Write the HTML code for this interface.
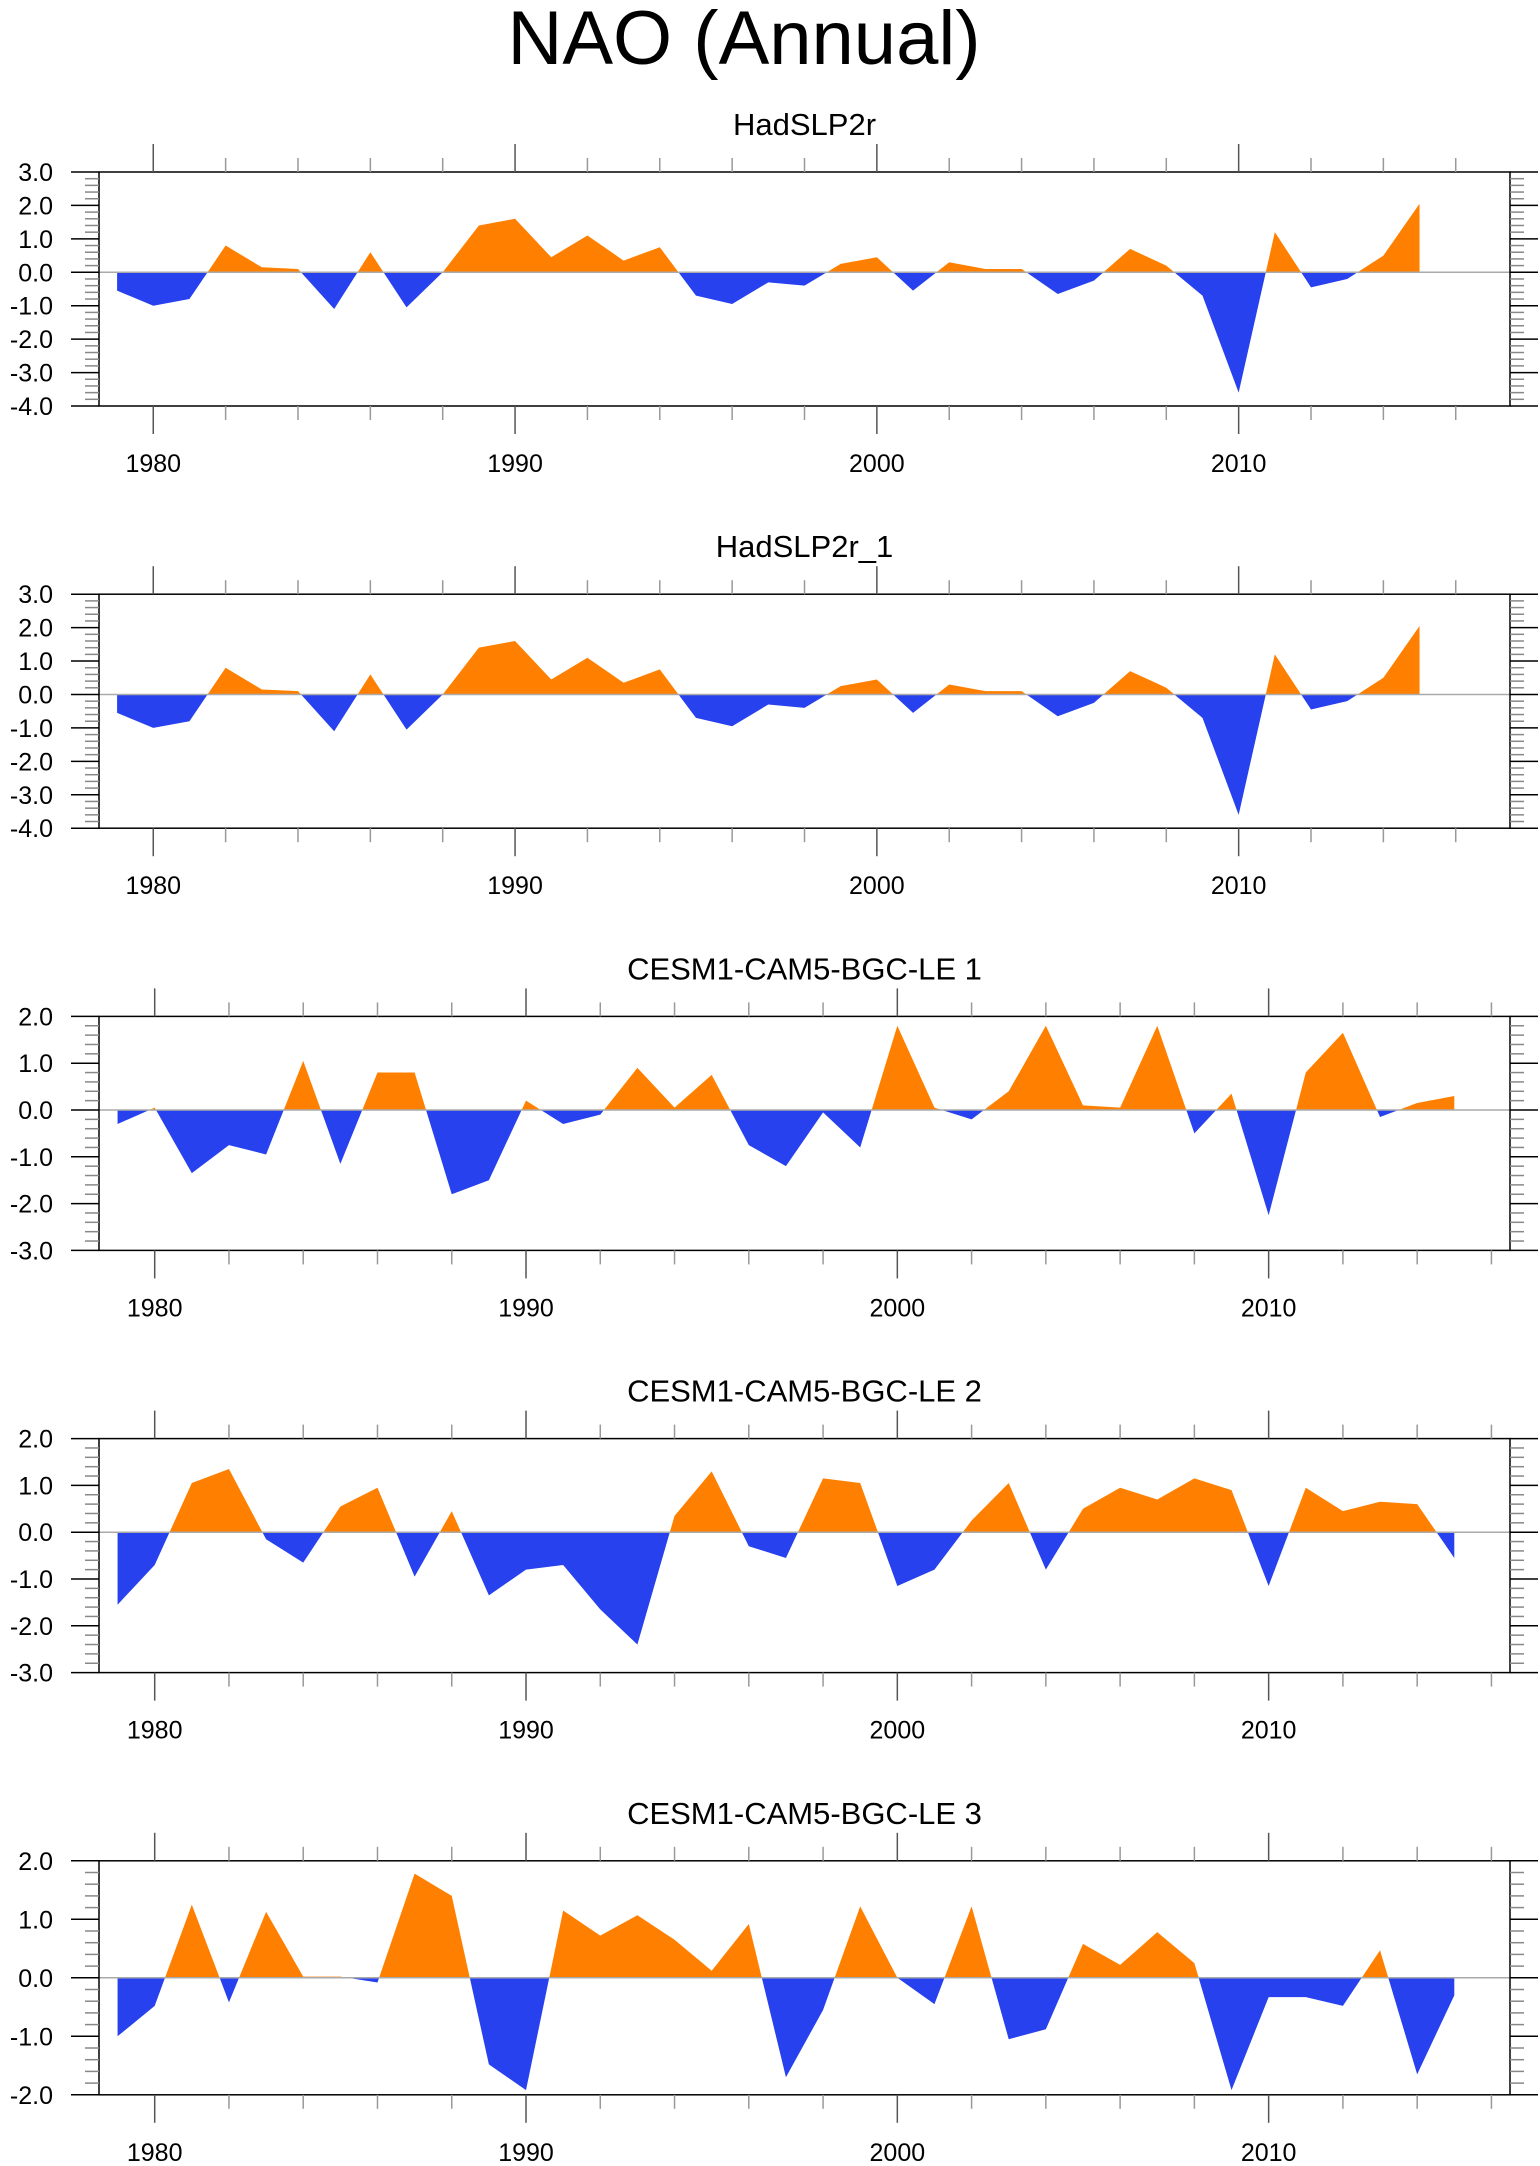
<!DOCTYPE html>
<html><head><meta charset="utf-8">
<style>
html,body{margin:0;padding:0;background:#fff;}
svg{display:block;font-family:"Liberation Sans",sans-serif;}
</style></head>
<body>
<svg id="chart" width="1540" height="2166" viewBox="0 0 1540 2166" xmlns="http://www.w3.org/2000/svg">
<text x="744" y="64" font-size="76" text-anchor="middle">NAO (Annual)</text>
</svg>
<script>
const years = [1979,1980,1981,1982,1983,1984,1985,1986,1987,1988,1989,1990,1991,1992,1993,1994,1995,1996,1997,1998,1999,2000,2001,2002,2003,2004,2005,2006,2007,2008,2009,2010,2011,2012,2013,2014,2015];
const hadslp = [-0.55,-1.0,-0.8,0.8,0.15,0.1,-1.1,0.6,-1.05,0.0,1.4,1.6,0.45,1.1,0.35,0.75,-0.7,-0.95,-0.3,-0.4,0.25,0.45,-0.55,0.3,0.1,0.1,-0.65,-0.25,0.7,0.2,-0.7,-3.6,1.2,-0.45,-0.2,0.5,2.05];
const hadslp1 = [-0.55,-1.0,-0.8,0.8,0.15,0.1,-1.1,0.6,-1.05,0.0,1.4,1.6,0.45,1.1,0.35,0.75,-0.7,-0.95,-0.3,-0.4,0.25,0.45,-0.55,0.3,0.1,0.1,-0.65,-0.25,0.7,0.2,-0.7,-3.6,1.2,-0.45,-0.2,0.5,2.05];
const le1 = [-0.3,0.05,-1.35,-0.75,-0.95,1.05,-1.15,0.8,0.8,-1.8,-1.5,0.2,-0.3,-0.1,0.9,0.05,0.75,-0.75,-1.2,-0.05,-0.8,1.8,0.05,-0.2,0.4,1.8,0.1,0.05,1.8,-0.5,0.35,-2.25,0.8,1.65,-0.15,0.15,0.3];
const le2 = [-1.55,-0.7,1.05,1.35,-0.15,-0.65,0.55,0.95,-0.95,0.45,-1.35,-0.8,-0.7,-1.65,-2.4,0.35,1.3,-0.3,-0.55,1.15,1.05,-1.15,-0.8,0.25,1.05,-0.8,0.5,0.95,0.7,1.15,0.9,-1.15,0.95,0.45,0.65,0.6,-0.55];
const le3 = [-1.0,-0.48,1.25,-0.42,1.13,0.02,0.02,-0.08,1.78,1.4,-1.48,-1.92,1.15,0.72,1.07,0.65,0.12,0.92,-1.7,-0.55,1.22,0.0,-0.45,1.22,-1.05,-0.88,0.58,0.22,0.78,0.25,-1.92,-0.33,-0.33,-0.48,0.47,-1.65,-0.3];
const titles = ["HadSLP2r","HadSLP2r_1","CESM1-CAM5-BGC-LE 1","CESM1-CAM5-BGC-LE 2","CESM1-CAM5-BGC-LE 3"];
const yMins = [-4,-4,-3,-3,-2];
const yMaxs = [3,3,2,2,2];
const xMaxs = [2017.5,2017.5,2016.5,2016.5,2016.5];
const xTickLabels = [1980,1990,2000,2010];

const NS="http://www.w3.org/2000/svg";
const svg=document.getElementById('chart');
function mk(tag,attrs,parent){const e=document.createElementNS(NS,tag);for(const k in attrs)e.setAttribute(k,attrs[k]);(parent||svg).appendChild(e);return e;}
const series=[hadslp,hadslp1,le1,le2,le3];
const L=99,R=1510;
for(let p=0;p<5;p++){
  const top=172+p*422.2, bot=top+234;
  const g=mk('g',{});
  
  
  const x0=1978.5,x1=xMaxs[p],y0=yMins[p],y1=yMaxs[p];
  const X=v=>L+(v-x0)/(x1-x0)*(R-L);
  const Y=v=>bot-(v-y0)/(y1-y0)*(bot-top);
  const t=mk('text',{x:(L+R)/2,y:top-37,'font-size':31,'text-anchor':'middle'},g);
  t.textContent=titles[p];
  
  
  const cu='cu'+p, cd='cd'+p;
  const c1=mk('clipPath',{id:cu},g); mk('rect',{x:L,y:top,width:R-L,height:Y(0)-top},c1);
  const c2=mk('clipPath',{id:cd},g); mk('rect',{x:L,y:Y(0),width:R-L,height:bot-Y(0)},c2);
  const d=series[p];
  let pts=X(years[0])+','+Y(0)+' ';
  for(let i=0;i<years.length;i++) pts+=X(years[i])+','+Y(d[i])+' ';
  pts+=X(years[years.length-1])+','+Y(0);
  const a=mk('polygon',{points:pts,fill:'#ff8000','clip-path':'url(#'+cu+')'},g);
  
  
  const b=mk('polygon',{points:pts,fill:'#2741ee','clip-path':'url(#'+cd+')'},g);
  
  
  mk('line',{x1:L,x2:R,y1:Y(0),y2:Y(0),stroke:'#aaa','stroke-width':1.5},g);
  const fr=mk('rect',{x:L,y:top,width:R-L,height:bot-top,fill:'none',stroke:'#000','stroke-width':1.5},g);
  
  
  for(let v=y0;v<=y1+1e-6;v+=0.2){
    const vv=Math.round(v*10)/10, maj=Math.abs(vv-Math.round(vv))<1e-6, yy=Y(vv), len=maj?28:14;
    mk('line',{x1:L-len,x2:L,y1:yy,y2:yy,stroke:maj?'#000':'#888','stroke-width':1.5},g);
    mk('line',{x1:R,x2:R+len,y1:yy,y2:yy,stroke:maj?'#000':'#888','stroke-width':1.5},g);
    if(maj){const tl=mk('text',{x:53,y:yy+9,'font-size':25,'text-anchor':'end'},g);tl.textContent=vv.toFixed(1);
      
      }
  }
  for(let yr=1980;yr<=x1;yr+=2){
    const maj=yr%10===0, xx=X(yr), len=maj?28:14;
    mk('line',{x1:xx,x2:xx,y1:top-len,y2:top,stroke:maj?'#555':'#999','stroke-width':1.5},g);
    mk('line',{x1:xx,x2:xx,y1:bot,y2:bot+len,stroke:maj?'#555':'#999','stroke-width':1.5},g);
  }
  for(const yr of xTickLabels){
    const tl=mk('text',{x:X(yr),y:bot+66,'font-size':25,'text-anchor':'middle'},g);tl.textContent=yr;
    
    
  }
}
</script>
</body></html>
